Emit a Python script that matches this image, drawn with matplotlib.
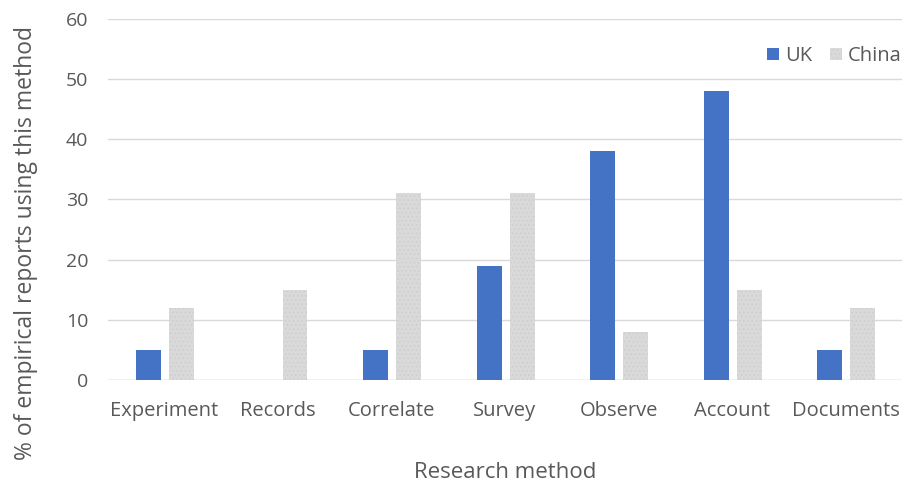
import numpy as np
import matplotlib.pyplot as plt

plt.rcParams["font.family"] = ["Open Sans", "DejaVu Sans"]
plt.rcParams["hatch.linewidth"] = 0.6

methods = ["Experiment", "Records", "Correlate", "Survey", "Observe", "Account", "Documents"]
uk = [5, 0, 5, 19, 38, 48, 5]
china = [12, 15, 31, 31, 8, 15, 12]

text_grey = "#595959"
grid_grey = "#D9D9D9"

fig = plt.figure(figsize=(9.05, 4.84), dpi=100)
ax = fig.add_axes([0.119, 0.215, 0.878, 0.746])

x = np.arange(len(methods))
w = 0.22
ax.bar(x - 0.14, uk, w, color="#4472C4", label="UK", zorder=3)
ax.bar(x + 0.15, china, w, color="#D9D9D9", edgecolor="#CDCDCD", hatch="....",
       linewidth=0, label="China", zorder=3)

ax.set_xlim(-0.5, len(methods) - 0.5)
ax.set_ylim(0, 60)
ax.set_yticks(range(0, 61, 10))
ax.set_xticks(x, methods)
ax.yaxis.grid(True, color=grid_grey, linewidth=1)
ax.set_axisbelow(True)
for s in ax.spines.values():
    s.set_visible(False)
ax.axhline(0, color=grid_grey, linewidth=1, zorder=2)

ax.tick_params(axis="y", length=0, pad=14, labelsize=14, labelcolor=text_grey)
ax.tick_params(axis="x", length=0, pad=15, labelsize=14.5, labelcolor=text_grey)

ax.set_ylabel("% of empirical reports using this method", fontsize=16.5, color=text_grey)
ax.yaxis.set_label_coords(-0.088, 0.38)
ax.set_xlabel("Research method", fontsize=16, color=text_grey, labelpad=30)

ax.legend(loc="upper right", bbox_to_anchor=(1.022, 0.975), ncol=2, frameon=False,
          fontsize=14.5, labelcolor=text_grey, handlelength=0.6, handleheight=0.6,
          handletextpad=0.3, columnspacing=0.85)

fig.savefig("out.png", dpi=100)
